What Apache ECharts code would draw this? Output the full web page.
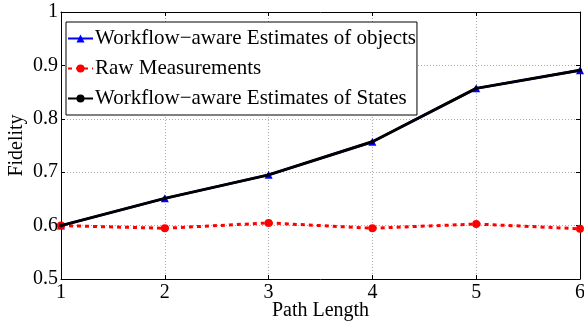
<!DOCTYPE html>
<html><head><meta charset="utf-8">
<script src="https://cdn.jsdelivr.net/npm/echarts@6/dist/echarts.min.js"></script>
<style>html,body{margin:0;padding:0;background:#fff}#c{width:584px;height:322px}</style>
</head><body><div id="c"></div>
<script>
var pathLengths = [1, 2, 3, 4, 5, 6];
var objectsEst = [0.600, 0.651, 0.695, 0.757, 0.857, 0.891];
var rawMeas = [0.600, 0.595, 0.605, 0.595, 0.603, 0.594];
var statesEst = [0.600, 0.651, 0.695, 0.757, 0.857, 0.891];
var seriesNames = ['Workflow\u2212aware Estimates of objects', 'Raw Measurements', 'Workflow\u2212aware Estimates of States'];
var xTitle = 'Path Length', yTitle = 'Fidelity';

function pairs(v){ return pathLengths.map(function(x,i){return [x, v[i]];}); }
var font = 'Liberation Serif';
var fs = 20;
var chart = echarts.init(document.getElementById('c'), null, {renderer:'canvas'});
var gridLine = {show:true, lineStyle:{color:'#aaa', type:[1,2], width:1}};
chart.setOption({
  animation:false,
  grid:{left:61, right:4, top:12, bottom:43, containLabel:false, outerBoundsMode:'none'},
  legend:{
    orient:'vertical', left:66, top:22,
    padding:[6,1,6,1], itemGap:9, itemWidth:25, itemHeight:10,
    borderColor:'#000', borderWidth:1, backgroundColor:'#fff',
    textStyle:{fontFamily:font, fontSize:21, color:'#000', padding:[0,0,0,-3]},
    data:seriesNames
  },
  xAxis:[{
    type:'value', min:1, max:6, interval:1,
    name:xTitle, nameLocation:'middle', nameGap:22, nameMoveOverlap:false,
    nameTextStyle:{fontFamily:font, fontSize:fs, color:'#000'},
    axisLine:{lineStyle:{color:'#000', width:1}},
    axisTick:{inside:true, length:4, lineStyle:{color:'#000'}},
    axisLabel:{fontFamily:font, fontSize:fs, color:'#000', margin:4},
    splitLine:gridLine
  },{
    type:'value', min:1, max:6, interval:1, position:'top',
    axisLine:{show:true, lineStyle:{color:'#000', width:1}},
    axisTick:{inside:true, length:4, lineStyle:{color:'#000'}},
    axisLabel:{show:false}, splitLine:{show:false}
  }],
  yAxis:[{
    type:'value', min:0.5, max:1, interval:0.1,
    name:yTitle, nameLocation:'middle', nameGap:34, nameMoveOverlap:false,
    nameTextStyle:{fontFamily:font, fontSize:fs, color:'#000'},
    axisLine:{show:true, lineStyle:{color:'#000', width:1}},
    axisTick:{show:true, inside:true, length:4, lineStyle:{color:'#000'}},
    axisLabel:{fontFamily:font, fontSize:fs, color:'#000', margin:3,
      formatter:function(v){return String(+v.toFixed(1));}},
    splitLine:gridLine
  },{
    type:'value', min:0.5, max:1, interval:0.1, position:'right',
    axisLine:{show:true, lineStyle:{color:'#000', width:1}},
    axisTick:{show:true, inside:true, length:4, lineStyle:{color:'#000'}},
    axisLabel:{show:false}, splitLine:{show:false}
  }],
  series:[{
    name:seriesNames[0], type:'line', data:pairs(objectsEst),
    symbol:'triangle', symbolSize:8, showSymbol:true,
    lineStyle:{color:'#0000ff', width:2.5}, itemStyle:{color:'#0000ff'}, z:2
  },{
    name:seriesNames[1], type:'line', data:pairs(rawMeas),
    symbol:'circle', symbolSize:8,
    lineStyle:{color:'#ff0000', width:3, type:[4,4]}, itemStyle:{color:'#ff0000'}, z:3
  },{
    name:seriesNames[2], type:'line', data:pairs(statesEst),
    symbol:'circle', symbolSize:4,
    lineStyle:{color:'#000', width:3}, itemStyle:{color:'#000'}, z:4
  }]
});
</script></body></html>
